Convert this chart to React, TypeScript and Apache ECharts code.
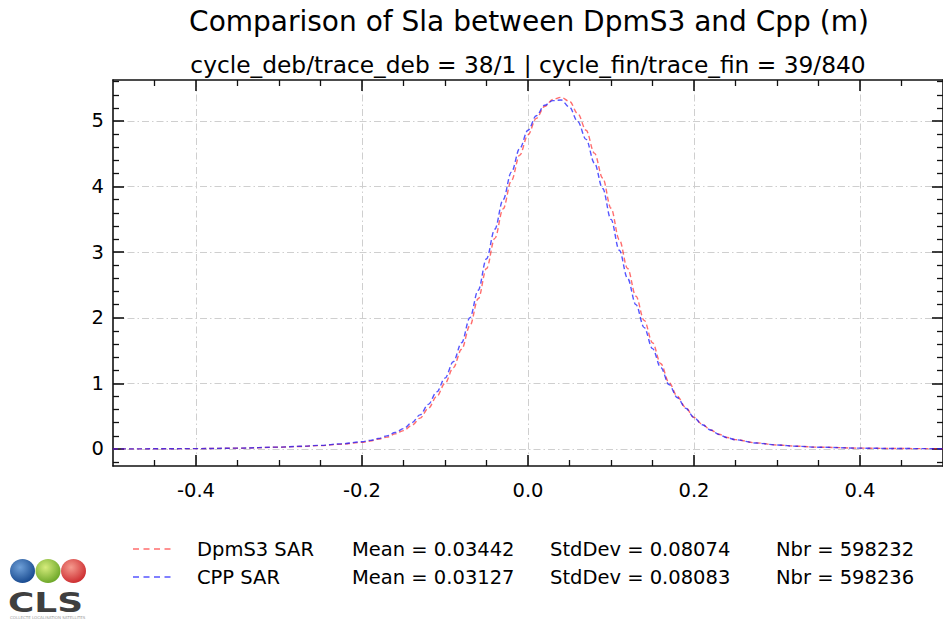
import React, { useEffect, useRef } from "react";
import * as echarts from "echarts";

// ---- data ----
const xValues = [
  -0.5, -0.45, -0.4, -0.35, -0.3, -0.275, -0.25, -0.225,
  -0.2, -0.19, -0.18, -0.17, -0.16, -0.15, -0.14, -0.13, -0.12, -0.11,
  -0.1, -0.09, -0.08, -0.07, -0.06, -0.05, -0.04, -0.03, -0.02, -0.01,
  0.0, 0.01, 0.02, 0.03, 0.04, 0.05, 0.06, 0.07, 0.08, 0.09,
  0.1, 0.11, 0.12, 0.13, 0.14, 0.15, 0.16, 0.17, 0.18, 0.19,
  0.2, 0.21, 0.22, 0.23, 0.24, 0.25, 0.275, 0.3, 0.325, 0.35, 0.4, 0.45, 0.5,
];
const dpmS3Values = [
  0.0, 0.002, 0.005, 0.011, 0.026, 0.037, 0.051, 0.072,
  0.1, 0.12, 0.15, 0.18, 0.23, 0.28, 0.36, 0.47, 0.62, 0.8,
  1.0, 1.24, 1.52, 1.88, 2.29, 2.75, 3.21, 3.66, 4.09, 4.48,
  4.79, 5.04, 5.22, 5.33, 5.36, 5.3, 5.11, 4.86, 4.51, 4.13,
  3.67, 3.19, 2.75, 2.33, 1.96, 1.62, 1.3, 1.01, 0.8, 0.63,
  0.48, 0.375, 0.29, 0.225, 0.175, 0.142, 0.092, 0.061, 0.041, 0.027, 0.012, 0.006, 0.003,
];
const cppValues = [
  0.0, 0.002, 0.005, 0.012, 0.028, 0.04, 0.055, 0.078,
  0.11, 0.13, 0.16, 0.2, 0.25, 0.31, 0.4, 0.52, 0.68, 0.87,
  1.08, 1.33, 1.62, 2.0, 2.42, 2.9, 3.35, 3.8, 4.22, 4.58,
  4.86, 5.08, 5.24, 5.31, 5.32, 5.21, 4.99, 4.72, 4.36, 3.97,
  3.5, 3.03, 2.6, 2.2, 1.85, 1.53, 1.24, 0.98, 0.78, 0.62,
  0.48, 0.37, 0.29, 0.22, 0.17, 0.14, 0.09, 0.06, 0.04, 0.026, 0.012, 0.006, 0.003,
];

const xMajorTicks = [-0.4, -0.2, 0, 0.2, 0.4];
const xMinorTicks = [-0.45, -0.35, -0.3, -0.25, -0.15, -0.1, -0.05, 0.05, 0.1, 0.15, 0.25, 0.3, 0.35, 0.45];
const yMajorTicks = [0, 1, 2, 3, 4, 5];
const yMinorTicks = [-0.2, 0.2, 0.4, 0.6, 0.8, 1.2, 1.4, 1.6, 1.8, 2.2, 2.4, 2.6, 2.8, 3.2, 3.4, 3.6, 3.8, 4.2, 4.4, 4.6, 4.8, 5.2, 5.4, 5.6];

const seriesNames = ["DpmS3 SAR", "CPP SAR"];
const seriesMeans = ["0.03442", "0.03127"];
const seriesStdDevs = ["0.08074", "0.08083"];
const seriesCounts = ["598232", "598236"];
const seriesColors = ["rgba(255,30,30,0.65)", "rgba(20,20,255,0.72)"];

const titleText = "Comparison of Sla between DpmS3 and Cpp (m)";
const subtitleText = "cycle_deb/trace_deb = 38/1 | cycle_fin/trace_fin = 39/840";

const X_MIN = -0.5;
const X_MAX = 0.5;
const Y_MIN = -0.26;
const Y_MAX = 5.625;

const FONT = "DejaVu Sans";
const DASH = [5, 3];

function makeAxis(kind: "x" | "y", position: string, ticks: number[], major: boolean, showLabel: boolean) {
  const ax: any = {
    type: "value",
    position,
    min: kind === "x" ? X_MIN : Y_MIN,
    max: kind === "x" ? X_MAX : Y_MAX,
    axisLine: { show: major, onZero: false, lineStyle: { color: "#111", width: 1.6 } },
    axisTick: {
      show: true,
      inside: true,
      length: major ? 11 : 6,
      customValues: ticks,
      lineStyle: { color: "#111", width: major ? 1.6 : 1.3 },
    },
    axisLabel: {
      show: showLabel,
      customValues: ticks,
      color: "#000",
      fontSize: 19.5,
      fontFamily: FONT,
      margin: kind === "x" ? 14 : 9,
      formatter: (v: number) => (kind === "x" ? v.toFixed(1) : String(Math.round(v))),
    },
    splitLine: {
      show: showLabel,
      lineStyle: { color: "#cfcfcf", width: 1, type: [7, 3, 1.5, 3] },
    },
    minorTick: { show: false },
  };
  return ax;
}

export default function App() {
  const ref = useRef<HTMLDivElement>(null);
  useEffect(() => {
    if (!ref.current) return;
    const chart = echarts.init(ref.current, null, { renderer: "svg" });

    const legendRows = [549, 577];
    const graphic: any[] = [
      {
        type: "text",
        x: 529,
        y: 21,
        style: { text: titleText, fontSize: 28, fontFamily: FONT, fill: "#000", align: "center", verticalAlign: "middle" },
      },
      {
        type: "text",
        x: 528,
        y: 64,
        style: { text: subtitleText, fontSize: 23.3, fontFamily: FONT, fill: "#000", align: "center", verticalAlign: "middle" },
      },
    ];
    seriesNames.forEach((name, i) => {
      const y = legendRows[i];
      graphic.push({
        type: "line",
        shape: { x1: 133, y1: y, x2: 173, y2: y },
        style: { stroke: seriesColors[i], lineWidth: 1.3, lineDash: [6, 4.5] },
      });
      const cols = [
        { x: 197, t: name },
        { x: 352, t: "Mean = " + seriesMeans[i] },
        { x: 550, t: "StdDev = " + seriesStdDevs[i] },
        { x: 776, t: "Nbr = " + seriesCounts[i] },
      ];
      cols.forEach((c) =>
        graphic.push({
          type: "text",
          x: c.x,
          y,
          style: { text: c.t, fontSize: 19.5, fontFamily: FONT, fill: "#000", align: "left", verticalAlign: "middle" },
        })
      );
    });
    // CLS logo
    const logoCircles = [
      { cx: 22.5, c1: "#6fa0d8", c2: "#0d3f86" },
      { cx: 48, c1: "#d6ec7c", c2: "#5f9e1e" },
      { cx: 73.5, c1: "#f59a8e", c2: "#c81f24" },
    ];
    logoCircles.forEach((c) =>
      graphic.push({
        type: "ellipse",
        shape: { cx: c.cx, cy: 571, rx: 12.5, ry: 12 },
        style: {
          fill: {
            type: "radial",
            x: 0.4,
            y: 0.35,
            r: 0.75,
            colorStops: [
              { offset: 0, color: c.c1 },
              { offset: 1, color: c.c2 },
            ],
          },
        },
      })
    );
    graphic.push({
      type: "text",
      x: 8,
      y: 603,
      scaleX: 1.38,
      style: { text: "CLS", fontSize: 26, fontWeight: "bold", fontFamily: FONT, fill: "#3f3f3f", align: "left", verticalAlign: "middle" },
    });
    graphic.push({
      type: "text",
      x: 10,
      y: 617,
      style: { text: "COLLECTE LOCALISATION SATELLITES", fontSize: 4, fontFamily: FONT, fill: "#a0a0a0", align: "left", verticalAlign: "middle" },
    });

    const option: any = {
      animation: false,
      backgroundColor: "#fff",
      grid: { left: 113, right: 0, top: 80, bottom: 154, containLabel: false },
      xAxis: [
        makeAxis("x", "bottom", xMajorTicks, true, true),
        makeAxis("x", "bottom", xMinorTicks, false, false),
        makeAxis("x", "top", xMajorTicks, true, false),
        makeAxis("x", "top", xMinorTicks, false, false),
      ],
      yAxis: [
        makeAxis("y", "left", yMajorTicks, true, true),
        makeAxis("y", "left", yMinorTicks, false, false),
        makeAxis("y", "right", yMajorTicks, true, false),
        makeAxis("y", "right", yMinorTicks, false, false),
      ],
      series: [
        {
          name: seriesNames[0],
          type: "line",
          xAxisIndex: 0,
          yAxisIndex: 0,
          showSymbol: false,
          smooth: 0.35,
          smoothMonotone: "x",
          data: xValues.map((x, i) => [x, dpmS3Values[i]]),
          lineStyle: { color: seriesColors[0], width: 1.4, type: DASH },
          z: 3,
        },
        {
          name: seriesNames[1],
          type: "line",
          xAxisIndex: 0,
          yAxisIndex: 0,
          showSymbol: false,
          smooth: 0.35,
          smoothMonotone: "x",
          data: xValues.map((x, i) => [x, cppValues[i]]),
          lineStyle: { color: seriesColors[1], width: 1.4, type: DASH },
          z: 4,
        },
      ],
      graphic,
    };
    chart.setOption(option);
    return () => chart.dispose();
  }, []);

  return (
    <div
      ref={ref}
      style={{ position: "fixed", left: 0, top: 0, width: 943, height: 620, background: "#fff" }}
    />
  );
}
